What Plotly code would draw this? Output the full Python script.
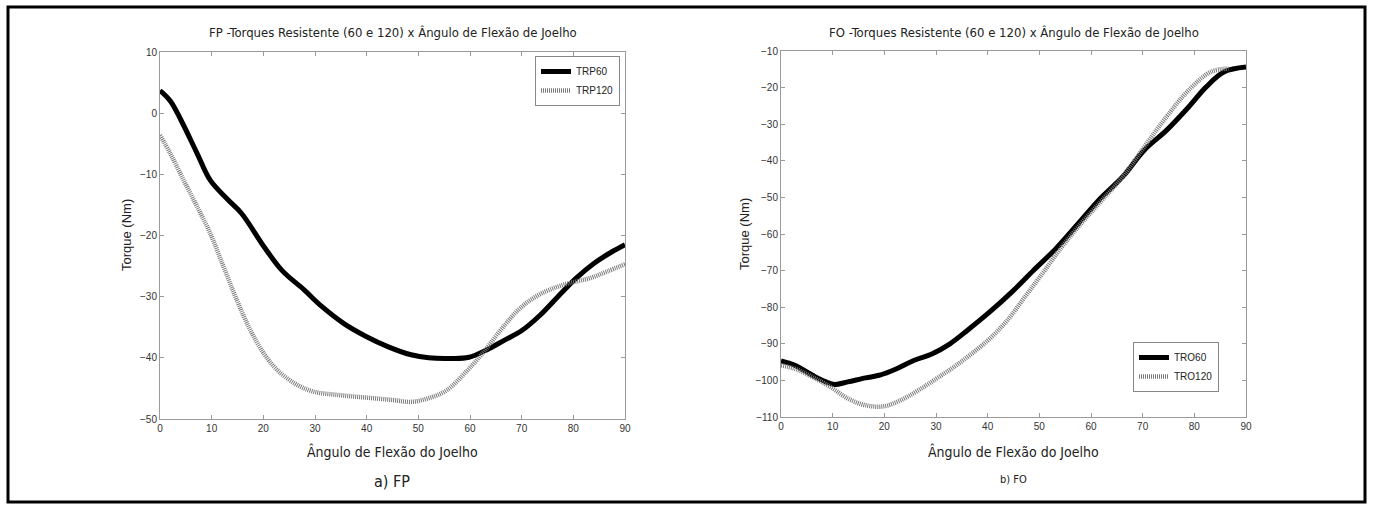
import plotly.graph_objects as go

# ---------------- data ----------------
fp_x60 = [0, 2, 4.1, 7.2, 9.75, 13.2, 15.8, 20.1, 23.6, 27.9, 31.3, 35.6, 39.9, 44.2, 48.6, 52,
          56.3, 59.8, 63.2, 66.7, 70.1, 73.6, 77.0, 80.5, 83.9, 87.4, 90]
fp_trp60 = [3.7, 2.0, -1.2, -6.6, -11.0, -14.2, -16.4, -21.8, -25.7, -28.9, -31.6, -34.4, -36.5,
            -38.2, -39.5, -40.0, -40.1, -39.9, -38.7, -37.1, -35.5, -33.0, -30.0, -27.0, -24.6,
            -22.7, -21.5]
fp_x120 = [0, 2, 4.6, 7.2, 9.75, 12.3, 14.9, 17.5, 20.1, 22.7, 26.1, 29.6, 34.8, 39.9, 45.1, 48.6,
           52, 55.5, 59.0, 62.4, 65.9, 69.3, 72.7, 76.2, 79.6, 83.1, 86.5, 90]
fp_trp120 = [-3.6, -6.6, -11.0, -15.3, -19.7, -25.1, -30.6, -35.5, -39.3, -42.0, -44.2, -45.5,
             -46.1, -46.5, -46.9, -47.2, -46.6, -45.3, -42.5, -39.3, -35.5, -32.2, -30.0, -28.6,
             -27.7, -27.0, -25.9, -24.7]

fo_x60 = [0, 2.7, 6.1, 8.7, 10.4, 12.9, 16.4, 19.0, 22.4, 25.8, 29.3, 32.7, 36.1, 40.4, 44.7, 48.9,
          53.2, 57.5, 61.8, 66.1, 70.3, 74.6, 78.9, 82.3, 85.8, 90]
fo_tro60 = [-94.7, -95.9, -98.6, -100.4, -101.1, -100.4, -99.3, -98.6, -96.8, -94.5, -92.7, -90.0,
            -86.3, -81.3, -75.8, -69.9, -64.0, -57.2, -50.3, -44.4, -37.1, -31.7, -25.3, -19.8,
            -15.7, -14.4]
fo_x120 = [0, 2.7, 6.1, 9.6, 13.0, 16.4, 19.8, 23.2, 26.6, 30.1, 33.5, 36.9, 40.4, 43.8, 47.2, 50.6,
           54.1, 57.5, 61.8, 66.1, 70.3, 74.6, 78.9, 83.2, 86.6]
fo_tro120 = [-95.9, -96.8, -99.1, -101.8, -105.0, -106.8, -107.1, -105.4, -102.7, -99.5, -96.3,
             -92.7, -88.6, -83.6, -77.2, -70.8, -64.0, -58.1, -51.3, -44.4, -36.2, -28.0, -20.7,
             -15.7, -14.8]

x_ticks = [0, 10, 20, 30, 40, 50, 60, 70, 80, 90]
fp_yticks = [10, 0, -10, -20, -30, -40, -50]
fo_yticks = [-10, -20, -30, -40, -50, -60, -70, -80, -90, -100, -110]

titles = ["FP -Torques Resistente (60 e 120) x Ângulo de Flexão de Joelho",
          "FO -Torques Resistente (60 e 120) x Ângulo de Flexão de Joelho"]
xlabel = "Ângulo de Flexão do Joelho"
ylabel = "Torque (Nm)"
captions = ["a) FP", "b) FO"]

# ---------------- layout geometry ----------------
W, H = 1373, 505
def px(x): return x / W
def py(y): return 1 - y / H

NARROW = "Liberation Sans Narrow, Arial Narrow, DejaVu Sans Condensed, sans-serif"
SANS = "Liberation Sans, Arial, Helvetica, sans-serif"

fig = go.Figure()

black = dict(color="black", width=5)
gray = dict(color="#7a7a7a", width=4.5, dash="1px,1px")

fig.add_trace(go.Scatter(x=fp_x60, y=fp_trp60, mode="lines", name="TRP60", line=dict(black, shape="spline"),
                         xaxis="x", yaxis="y", legend="legend"))
fig.add_trace(go.Scatter(x=fp_x120, y=fp_trp120, mode="lines", name="TRP120", line=dict(gray, shape="spline"),
                         xaxis="x", yaxis="y", legend="legend"))
fig.add_trace(go.Scatter(x=fo_x60, y=fo_tro60, mode="lines", name="TRO60", line=dict(black, shape="spline"),
                         xaxis="x2", yaxis="y2", legend="legend2"))
fig.add_trace(go.Scatter(x=fo_x120, y=fo_tro120, mode="lines", name="TRO120", line=dict(gray, shape="spline"),
                         xaxis="x2", yaxis="y2", legend="legend2"))

axis_common = dict(showgrid=False, zeroline=False, showline=True, linecolor="#9a9a9a", linewidth=1,
                   mirror="ticks", ticks="inside", ticklen=4, tickcolor="#9a9a9a", automargin=False,
                   tickfont=dict(family=SANS, size=10, color="#333"))

fig.update_layout(
    template="none",
    width=W, height=H, margin=dict(l=0, r=0, t=0, b=0, pad=0), autosize=False,
    paper_bgcolor="white", plot_bgcolor="white",
    xaxis=dict(axis_common, domain=[px(160), px(625)], range=[0, 90], tickvals=x_ticks, anchor="y"),
    yaxis=dict(axis_common, domain=[py(419), py(52)], range=[-50, 10], tickvals=fp_yticks, anchor="x"),
    xaxis2=dict(axis_common, domain=[px(781), px(1246)], range=[0, 90], tickvals=x_ticks, anchor="y2"),
    yaxis2=dict(axis_common, domain=[py(417), py(51)], range=[-110, -10], tickvals=fo_yticks, anchor="x2"),
    legend=dict(x=px(620), y=py(56), xanchor="right", yanchor="top",
                bgcolor="white", bordercolor="#888", borderwidth=1,
                font=dict(family=SANS, size=10, color="#222"),
                itemwidth=30, tracegroupgap=0),
    legend2=dict(x=px(1133), y=py(392), xanchor="left", yanchor="bottom",
                 bgcolor="white", bordercolor="#888", borderwidth=1,
                 font=dict(family=SANS, size=10, color="#222"),
                 itemwidth=30, tracegroupgap=0),
    showlegend=True,
)

centers = [(160 + 625) / 2, (781 + 1246) / 2]
annots = []
for i, c in enumerate(centers):
    annots.append(dict(x=px(c), y=py(32), xref="paper", yref="paper", text=titles[i], showarrow=False,
                       font=dict(family=NARROW, size=13, color="#222"), xanchor="center", yanchor="middle"))
    annots.append(dict(x=px(c), y=py(451), xref="paper", yref="paper", text=xlabel, showarrow=False,
                       font=dict(family=NARROW, size=14, color="#222"), xanchor="center", yanchor="middle"))
annots.append(dict(x=px(127), y=py(235), xref="paper", yref="paper", text=ylabel, showarrow=False, textangle=-90,
                   font=dict(family=SANS, size=13, color="#222"), xanchor="center", yanchor="middle"))
annots.append(dict(x=px(745), y=py(234), xref="paper", yref="paper", text=ylabel, showarrow=False, textangle=-90,
                   font=dict(family=SANS, size=13, color="#222"), xanchor="center", yanchor="middle"))
annots.append(dict(x=px(392), y=py(481), xref="paper", yref="paper", text=captions[0], showarrow=False,
                   font=dict(family=NARROW, size=16, color="#222"), xanchor="center", yanchor="middle"))
annots.append(dict(x=px(1013), y=py(479), xref="paper", yref="paper", text=captions[1], showarrow=False,
                   font=dict(family=NARROW, size=11, color="#222"), xanchor="center", yanchor="middle"))
fig.update_layout(annotations=annots)

fig.add_shape(type="rect", xref="paper", yref="paper", x0=px(8), x1=px(1365), y0=py(502), y1=py(7),
              line=dict(color="black", width=3), fillcolor="rgba(0,0,0,0)", layer="above")

fig.write_html("out.html", config={"responsive": False, "displayModeBar": False},
               post_script="document.body.style.margin='0';document.body.style.padding='0';"
                           "document.body.style.overflow='hidden';")
